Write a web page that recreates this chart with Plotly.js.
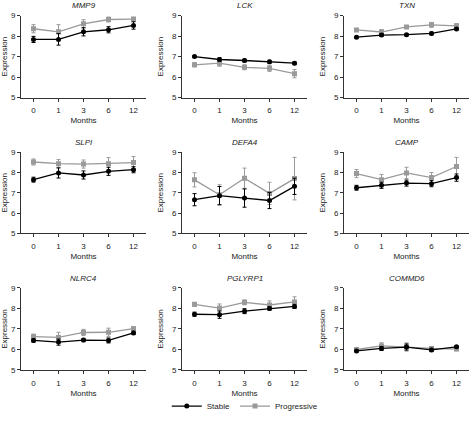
<!DOCTYPE html>
<html><head><meta charset="utf-8">
<script src="https://cdn.plot.ly/plotly-3.0.1.min.js"></script>
<style>html,body{margin:0;padding:0;background:#fff}#chart{width:469px;height:421px}</style>
</head><body><div id="chart"></div>
<script>
const months = ['0','1','3','6','12'];
const genes = ['MMP9','LCK','TXN','SLPI','DEFA4','CAMP','NLRC4','PGLYRP1','COMMD6'];

const stableMean = [
  [7.84, 7.84, 8.21, 8.31, 8.52],
  [7.00, 6.86, 6.81, 6.75, 6.68],
  [7.95, 8.05, 8.07, 8.13, 8.35],
  [7.65, 7.98, 7.88, 8.06, 8.14],
  [6.66, 6.86, 6.74, 6.62, 7.32],
  [7.25, 7.37, 7.48, 7.45, 7.75],
  [6.44, 6.36, 6.46, 6.44, 6.81],
  [7.72, 7.70, 7.87, 8.00, 8.10],
  [5.93, 6.05, 6.12, 5.98, 6.13]
];
const stableErr = [
  [0.15, 0.28, 0.20, 0.15, 0.18],
  [0.04, 0.08, 0.07, 0.07, 0.07],
  [0.04, 0.07, 0.05, 0.07, 0.05],
  [0.12, 0.25, 0.20, 0.20, 0.15],
  [0.30, 0.45, 0.45, 0.40, 0.40],
  [0.12, 0.15, 0.15, 0.15, 0.18],
  [0.08, 0.15, 0.08, 0.12, 0.08],
  [0.10, 0.18, 0.12, 0.08, 0.10],
  [0.05, 0.10, 0.15, 0.08, 0.06]
];
const progMean = [
  [8.36, 8.21, 8.60, 8.81, 8.83],
  [6.60, 6.68, 6.48, 6.43, 6.17],
  [8.30, 8.20, 8.45, 8.55, 8.50],
  [8.52, 8.44, 8.42, 8.44, 8.49],
  [7.64, 6.90, 7.72, 6.97, 7.70],
  [7.95, 7.65, 7.98, 7.75, 8.30],
  [6.63, 6.59, 6.83, 6.84, 7.02],
  [8.20, 8.02, 8.30, 8.17, 8.32],
  [6.00, 6.18, 6.12, 6.05, 6.02]
];
const progErr = [
  [0.20, 0.35, 0.20, 0.12, 0.08],
  [0.10, 0.15, 0.12, 0.15, 0.20],
  [0.05, 0.12, 0.07, 0.12, 0.10],
  [0.15, 0.20, 0.20, 0.30, 0.30],
  [0.35, 0.50, 0.50, 0.55, 1.05],
  [0.20, 0.25, 0.28, 0.25, 0.45],
  [0.12, 0.25, 0.15, 0.20, 0.08],
  [0.10, 0.20, 0.12, 0.20, 0.25],
  [0.05, 0.15, 0.20, 0.10, 0.05]
];
const seriesNames = ['Stable','Progressive'];
const yTicks = [5,6,7,8,9];

const W = 469, H = 421;
const colX = [21, 182, 344], plotW = 125;
const rowY = [[16,100],[156,239],[295,379]];
const BLACK = '#000000', GRAY = '#9a9a9a', AX = '#333333';
const FONT = 'Liberation Sans, Arial, sans-serif';

const data = [], annotations = [];
const layout = {
  width: W, height: H, margin: {l:0,r:0,t:0,b:0},
  paper_bgcolor: '#fff', plot_bgcolor: '#fff',
  font: {family: FONT, size: 8, color: '#222'},
  showlegend: true,
  legend: {orientation: 'h', x: 0.523, xanchor: 'center', y: 1 - 416/H, yanchor: 'middle',
           font: {size: 8, family: FONT, color: '#222'}, itemwidth: 30, tracegroupgap: 0, bgcolor: 'rgba(0,0,0,0)'},
  annotations: annotations
};

genes.forEach((g, i) => {
  const r = Math.floor(i/3), c = i % 3;
  const k = i === 0 ? '' : String(i+1);
  const xa = 'x' + k, ya = 'y' + k;
  layout['xaxis' + k] = {
    domain: [colX[c]/W, Math.min(1,(colX[c]+plotW)/W)], anchor: ya,
    type: 'category', categoryorder: 'array', categoryarray: months, range: [-0.5, 4.5],
    showline: true, linecolor: AX, linewidth: 1, ticks: 'outside', ticklen: 3, tickcolor: AX,
    ticklabelstandoff: 2,
    showgrid: false, zeroline: false, tickfont: {size: 8, family: FONT, color: '#222'},
    title: {text: 'Months', font: {size: 8, family: FONT, color: '#222'}, standoff: 3}
  };
  layout['yaxis' + k] = {
    domain: [1 - rowY[r][1]/H, 1 - rowY[r][0]/H], anchor: xa,
    range: [5, 9], tickvals: yTicks, ticktext: yTicks.map(String),
    showline: true, linecolor: AX, linewidth: 1, ticks: 'outside', ticklen: 3, tickcolor: AX,
    showgrid: false, zeroline: false, tickfont: {size: 8, family: FONT, color: '#222'},
    title: {text: 'Expression', font: {size: 8, family: FONT, color: '#222'}, standoff: 7}
  };
  annotations.push({
    text: '<i>' + g + '</i>', xref: 'paper', yref: 'paper',
    x: (colX[c] + plotW/2)/W, y: 1 - (rowY[r][0] - 10)/H, xanchor: 'center', yanchor: 'middle',
    showarrow: false, font: {size: 8, family: FONT, color: '#222'}
  });
  data.push({
    x: months, y: progMean[i], xaxis: xa, yaxis: ya, type: 'scatter', mode: 'lines+markers',
    name: seriesNames[1], legendgroup: 'p', showlegend: i === 0, legendrank: 2,
    line: {color: GRAY, width: 1.3}, marker: {symbol: 'square', size: 5, color: GRAY},
    error_y: {type: 'data', array: progErr[i], visible: true, color: GRAY, thickness: 1, width: 2}
  });
  data.push({
    x: months, y: stableMean[i], xaxis: xa, yaxis: ya, type: 'scatter', mode: 'lines+markers',
    name: seriesNames[0], legendgroup: 's', showlegend: i === 0, legendrank: 1,
    line: {color: BLACK, width: 1.3}, marker: {symbol: 'circle', size: 5, color: BLACK},
    error_y: {type: 'data', array: stableErr[i], visible: true, color: BLACK, thickness: 1, width: 2}
  });
});

Plotly.newPlot('chart', data, layout, {staticPlot: true, displayModeBar: false});
</script></body></html>
